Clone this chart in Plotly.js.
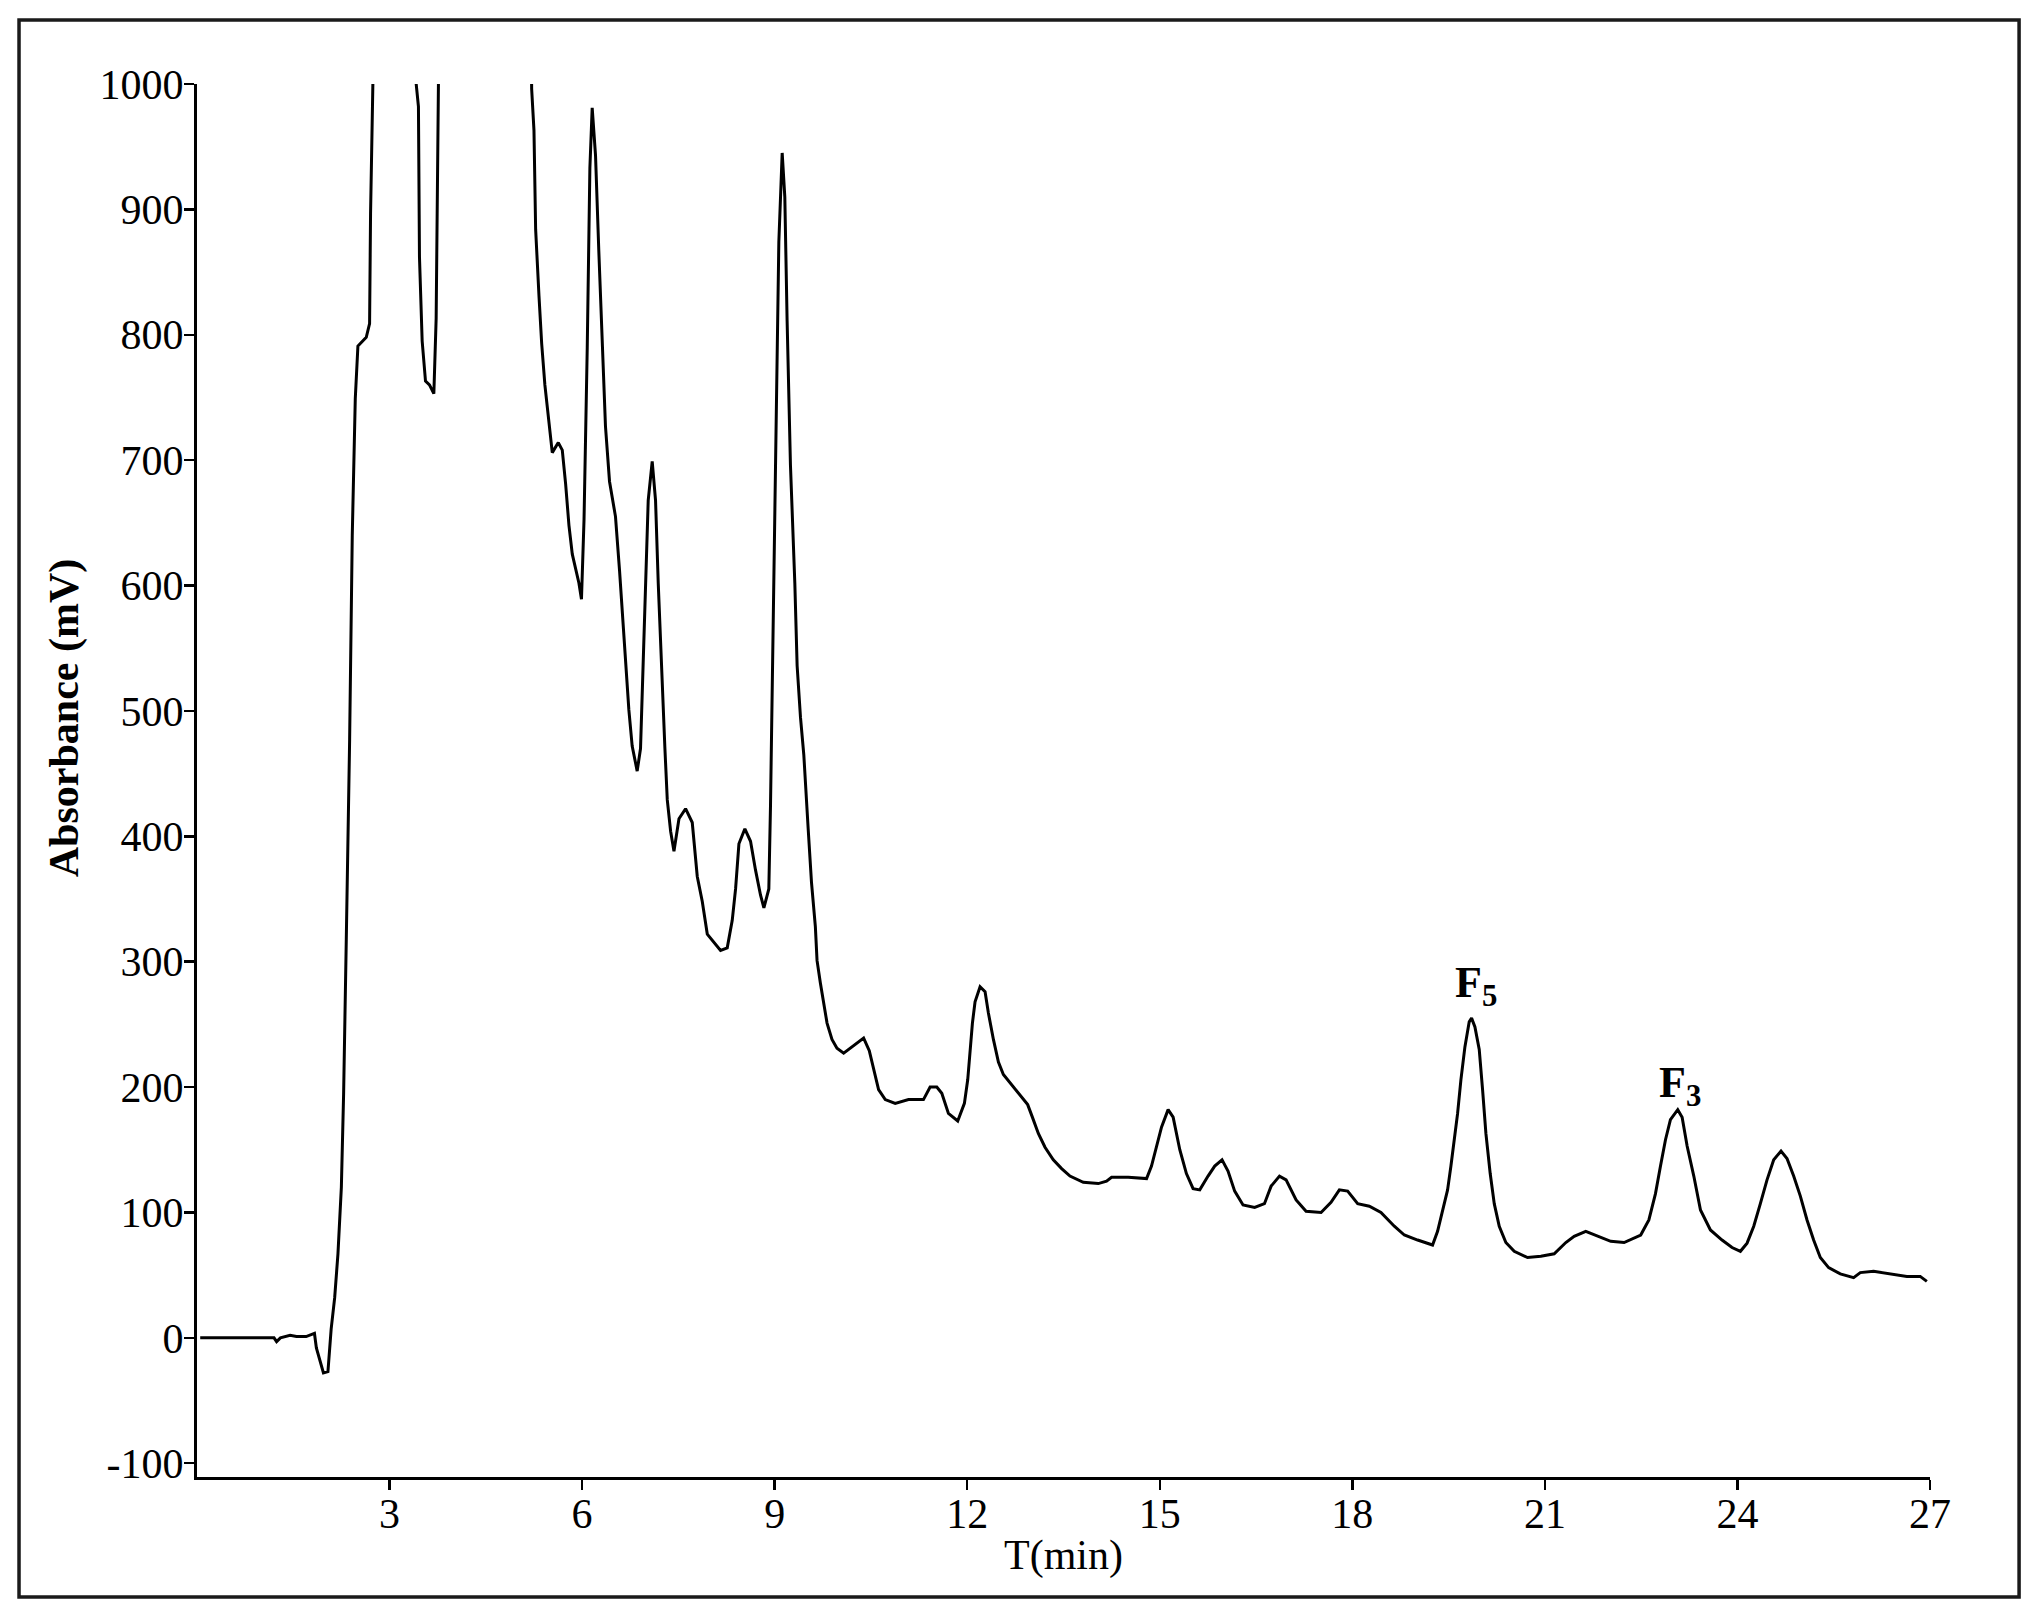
<!DOCTYPE html>
<html>
<head>
<meta charset="utf-8">
<script src="https://cdn.plot.ly/plotly-3.0.1.min.js"></script>
<style>html,body{margin:0;padding:0;background:#fff;}#chart{width:2035px;height:1615px;}</style>
</head>
<body>
<div id="chart"></div>
<script>
// Retention time (min)
const timeMin = [
0.05,0.6,1.2,1.24,1.3,1.45,1.55,1.7,1.83,1.86,1.92,1.97,2.04,2.09,2.145,2.196,2.249,2.284,2.326,2.378,
2.419,2.466,2.507,2.637,2.689,2.704,2.74,2.77,3.38,3.415,3.45,3.466,3.508,3.56,3.622,3.69,3.726,3.762,3.79,
5.19,5.214,5.25,5.276,5.328,5.37,5.42,5.473,5.535,5.629,5.691,5.743,5.795,5.847,5.91,5.95,5.99,6.03,6.08,
6.121,6.157,6.209,6.26,6.312,6.364,6.427,6.52,6.583,6.635,6.676,6.728,6.78,6.858,6.91,6.936,6.988,7.03,
7.092,7.144,7.186,7.238,7.29,7.327,7.379,7.431,7.509,7.612,7.716,7.794,7.872,7.95,8.054,8.157,8.261,8.339,
8.391,8.443,8.536,8.624,8.702,8.78,8.832,8.909,8.935,8.971,9.023,9.065,9.117,9.158,9.194,9.246,9.314,9.35,
9.402,9.454,9.522,9.574,9.634,9.66,9.712,9.764,9.816,9.893,9.971,10.075,10.179,10.298,10.386,10.474,10.541,
10.619,10.723,10.878,11.085,11.318,11.422,11.526,11.604,11.707,11.852,11.956,12.008,12.044,12.081,12.122,
12.2,12.278,12.33,12.408,12.486,12.563,12.693,12.823,12.942,13.015,13.108,13.212,13.341,13.471,13.601,
13.808,14.042,14.171,14.249,14.508,14.69,14.794,14.871,14.949,15.027,15.13,15.208,15.312,15.415,15.519,
15.623,15.752,15.856,15.97,16.063,16.167,16.297,16.478,16.631,16.735,16.865,16.968,17.124,17.279,17.513,
17.668,17.798,17.927,18.083,18.265,18.446,18.654,18.81,19.017,19.25,19.328,19.406,19.484,19.536,19.588,
19.64,19.692,19.754,19.821,19.858,19.91,19.977,20.029,20.081,20.148,20.211,20.289,20.392,20.522,20.73,
20.937,21.145,21.326,21.456,21.637,21.819,22.026,22.234,22.493,22.62,22.723,22.801,22.879,22.956,23.07,
23.138,23.216,23.32,23.424,23.579,23.76,23.916,24.046,24.15,24.254,24.357,24.461,24.565,24.679,24.772,
24.876,24.98,25.084,25.187,25.291,25.421,25.602,25.81,25.914,26.121,26.38,26.64,26.847,26.951
];
// Absorbance (mV); values above 1000 are off-scale in the original
const absorbance = [
0,0,0,-3,0,2,1,1,3.5,-8,-20,-28,-27,7,32,67,120,194,318,477,
640,749,791,798,809,897,1000,1150,1150,1000,982,862,795,763,760,753,813,996,1150,
1150,996,963,884,831,793,760,734,706,714,708,681,648,625,612,602,589,653,790,
933,981,943,867,790,727,683,655,612,572,533,501,472,452,470,516,592,668,
699,668,602,528,470,429,404,388,414,422,411,368,348,322,315,309,311,333,
358,394,406,396,373,353,343,358,424,546,714,874,945,910,811,696,602,536,
495,465,406,363,328,301,283,266,251,238,231,227,231,236,239,229,214,
198,190,187,190,190,200,200,195,179,173,187,206,227,251,268,
280,276,259,238,220,210,202,194,186,176,163,152,142,135,129,
124,123,125,128,128,127,127,137,152,168,182,176,150,131,119,
118,129,137,142,133,117,106,104,107,121,129,126,110,101,100,
108,118,117,107,105,100,89,82,78,74,85,102,118,137,158,
179,206,232,252,255,248,230,198,163,131,107,89,76,69,64,
65,67,76,81,85,81,77,76,82,94,115,137,158,174,182,
176,153,129,102,86,78,72,69,75.5,89,107,126,142,149,143,
129,113,94,78,64,56,51,48,52,53,51,49,49,45
];
const xTickVals = [3,6,9,12,15,18,21,24,27];
const xTickText = ['3','6','9','12','15','18','21','24','27'];
const yTickVals = [-100,0,100,200,300,400,500,600,700,800,900,1000];
const yTickText = ['-100','0','100','200','300','400','500','600','700','800','900','1000'];
const peakLabels = ['F<sub>5</sub>','F<sub>3</sub>'];
const peakTimes = [19.92, 23.11];
const peakLabelY = [281, 201];

const serif = 'Liberation Serif, Times New Roman, serif';

const trace = {
  x: timeMin, y: absorbance, type: 'scatter', mode: 'lines',
  line: {color: '#000', width: 3, shape: 'linear'},
  hoverinfo: 'skip', showlegend: false
};

const annotations = peakLabels.map((t, i) => ({
  x: peakTimes[i], y: peakLabelY[i], xref: 'x', yref: 'y',
  text: t, showarrow: false, xanchor: 'center', yanchor: 'middle',
  font: {family: serif, size: 44, color: '#000', weight: 'bold'}
}));
annotations.push({
  x: -0.0765, y: 0.545, xref: 'paper', yref: 'paper',
  text: '<b>Absorbance (mV)</b>', textangle: -90, showarrow: false,
  xanchor: 'center', yanchor: 'middle',
  font: {family: serif, size: 42, color: '#000'}
});

const layout = {
  width: 2035, height: 1615,
  margin: {l: 197, r: 105, t: 84, b: 138},
  paper_bgcolor: '#fff', plot_bgcolor: '#fff',
  showlegend: false,
  xaxis: {
    range: [0, 27], tickvals: xTickVals, ticktext: xTickText,
    ticks: 'outside', ticklen: 10, tickwidth: 2.5, tickcolor: '#000',
    ticklabelstandoff: -12,
    showline: true, linecolor: '#000', linewidth: 3, showgrid: false, zeroline: false,
    tickfont: {family: serif, size: 42, color: '#000'},
    title: {text: 'T(min)', font: {family: serif, size: 42, color: '#000'}, standoff: 4},
    automargin: false
  },
  yaxis: {
    range: [-111, 1000], tickvals: yTickVals, ticktext: yTickText,
    ticks: 'outside', ticklen: 10, tickwidth: 2.5, tickcolor: '#000',
    ticklabelstandoff: -8,
    showline: true, linecolor: '#000', linewidth: 3, showgrid: false, zeroline: false,
    tickfont: {family: serif, size: 42, color: '#000'},
    automargin: false
  },
  annotations: annotations,
  shapes: [{
    type: 'rect', xref: 'paper', yref: 'paper',
    x0: -0.1027, x1: 1.0514, y0: -0.0861, y1: 1.046,
    line: {color: '#1a1a1a', width: 3.5}, fillcolor: 'rgba(0,0,0,0)'
  }]
};

Plotly.newPlot('chart', [trace], layout, {displayModeBar: false, staticPlot: true});
</script>
</body>
</html>
